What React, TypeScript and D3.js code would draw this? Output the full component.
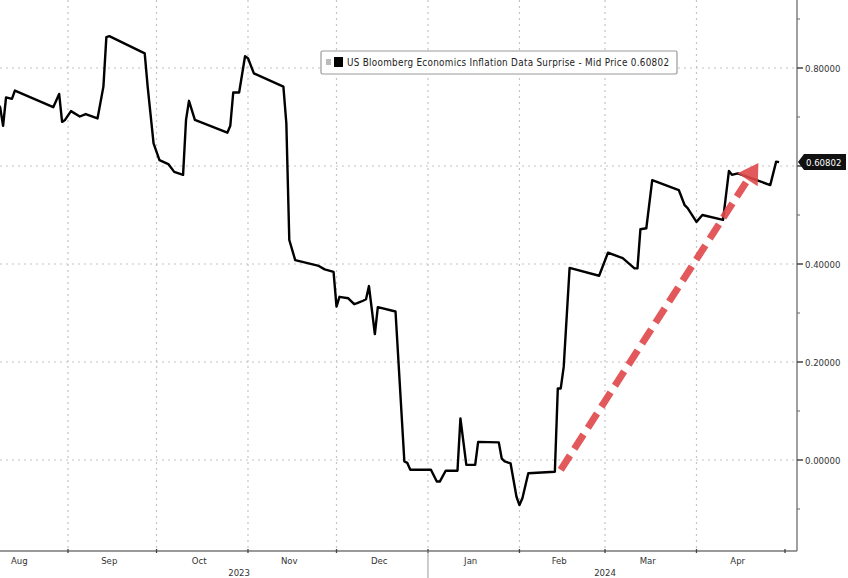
import React, { useEffect, useRef } from 'react';
import * as d3 from 'd3';

// series points (date, value)
const dates = [
  '2023-08-07', '2023-08-09', '2023-08-10', '2023-08-11', '2023-08-13', '2023-08-14', '2023-08-27', '2023-08-29',
  '2023-08-30', '2023-08-31', '2023-09-02', '2023-09-05', '2023-09-07', '2023-09-11', '2023-09-13', '2023-09-14',
  '2023-09-15', '2023-09-27', '2023-09-28', '2023-09-30', '2023-10-02', '2023-10-05', '2023-10-07', '2023-10-10',
  '2023-10-11', '2023-10-12', '2023-10-14', '2023-10-25', '2023-10-26', '2023-10-27', '2023-10-29', '2023-10-31',
  '2023-11-01', '2023-11-03', '2023-11-13', '2023-11-14', '2023-11-15', '2023-11-17', '2023-11-25', '2023-11-27',
  '2023-11-30', '2023-12-01', '2023-12-02', '2023-12-05', '2023-12-07', '2023-12-08', '2023-12-10', '2023-12-11',
  '2023-12-12', '2023-12-14', '2023-12-15', '2023-12-21', '2023-12-24', '2023-12-25', '2023-12-26', '2024-01-02',
  '2024-01-04', '2024-01-05', '2024-01-07', '2024-01-11', '2024-01-12', '2024-01-14', '2024-01-17', '2024-01-18',
  '2024-01-25', '2024-01-26', '2024-01-27', '2024-01-29', '2024-01-31', '2024-02-01', '2024-02-02', '2024-02-04',
  '2024-02-10', '2024-02-13', '2024-02-14', '2024-02-15', '2024-02-16', '2024-02-18', '2024-02-28', '2024-03-02',
  '2024-03-07', '2024-03-11', '2024-03-12', '2024-03-13', '2024-03-15', '2024-03-17', '2024-03-26', '2024-03-28',
  '2024-03-29', '2024-04-01', '2024-04-03', '2024-04-10', '2024-04-12', '2024-04-13', '2024-04-15', '2024-04-26',
  '2024-04-28', '2024-04-29',
];
const values = [
  0.735, 0.720, 0.682, 0.740, 0.737, 0.754, 0.720, 0.747,
  0.690, 0.694, 0.712, 0.701, 0.706, 0.697, 0.762, 0.863,
  0.865, 0.830, 0.762, 0.646, 0.612, 0.604, 0.588, 0.582,
  0.694, 0.733, 0.694, 0.668, 0.682, 0.750, 0.750, 0.824,
  0.820, 0.789, 0.762, 0.687, 0.449, 0.408, 0.396, 0.389,
  0.384, 0.313, 0.333, 0.330, 0.318, 0.320, 0.325, 0.328,
  0.355, 0.257, 0.312, 0.303, -0.003, -0.006, -0.020, -0.020,
  -0.044, -0.044, -0.022, -0.022, 0.085, -0.010, -0.010, 0.037,
  0.036, 0.003, -0.003, -0.007, -0.075, -0.092, -0.078, -0.027,
  -0.025, -0.024, 0.146, 0.146, 0.190, 0.392, 0.376, 0.423,
  0.412, 0.391, 0.391, 0.471, 0.473, 0.571, 0.551, 0.520,
  0.514, 0.486, 0.500, 0.490, 0.590, 0.582, 0.585, 0.561,
  0.609, 0.60802,
];

const monthLabels = ['Aug', 'Sep', 'Oct', 'Nov', 'Dec', 'Jan', 'Feb', 'Mar', 'Apr'];
const monthStarts = [
  '2023-08-01', '2023-09-01', '2023-10-01', '2023-11-01', '2023-12-01',
  '2024-01-01', '2024-02-01', '2024-03-01', '2024-04-01', '2024-05-01',
];
const yearLabels = ['2023', '2024'];
const yearLabelDates = ['2023-10-29', '2024-03-01'];
const yTicks = [0, 0.2, 0.4, 0.6, 0.8];
const yMinorTicks = [-0.1, 0.1, 0.3, 0.5, 0.7, 0.9];
const lastValue = 0.60802;
const legendText = 'US Bloomberg Economics Inflation Data Surprise - Mid Price 0.60802';
// trend arrow annotation (date, value)
const arrowFrom = { date: '2024-02-15', value: -0.02 };
const arrowTo = { date: '2024-04-22', value: 0.606 };

const W = 848;
const H = 578;
const plotRight = 797;
const plotBottom = 551;

const App: React.FC = () => {
  const svgRef = useRef<SVGSVGElement | null>(null);

  useEffect(() => {
    document.body.style.margin = '0';
    const parse = d3.timeParse('%Y-%m-%d');
    const svg = d3.select(svgRef.current);
    svg.selectAll('*').remove();

    const x = d3.scaleTime()
      .domain([parse('2023-09-01')!, parse('2024-05-01')!])
      .range([68, 785]);
    const y = d3.scaleLinear().domain([0, 0.8]).range([460, 68]);

    const font = "'DejaVu Sans Condensed', 'Liberation Sans', sans-serif";
    const grid = svg.append('g');

    // horizontal grid
    grid.selectAll('line.h')
      .data(yTicks)
      .join('line')
      .attr('x1', 0).attr('x2', plotRight)
      .attr('y1', (d) => y(d)).attr('y2', (d) => y(d))
      .attr('stroke', '#c4c4c4').attr('stroke-width', 1.2)
      .attr('stroke-dasharray', '2,4');

    // vertical grid at month boundaries
    grid.selectAll('line.v')
      .data(monthStarts.slice(1, -1))
      .join('line')
      .attr('x1', (d) => x(parse(d)!)).attr('x2', (d) => x(parse(d)!))
      .attr('y1', 0).attr('y2', plotBottom)
      .attr('stroke', '#c4c4c4').attr('stroke-width', 1.2)
      .attr('stroke-dasharray', '2,4');

    // axes frame
    svg.append('line')
      .attr('x1', plotRight).attr('x2', plotRight).attr('y1', 0).attr('y2', plotBottom)
      .attr('stroke', '#777').attr('stroke-width', 1.4);
    svg.append('line')
      .attr('x1', 0).attr('x2', plotRight).attr('y1', plotBottom).attr('y2', plotBottom)
      .attr('stroke', '#777').attr('stroke-width', 1.4);

    // right axis ticks + labels
    svg.selectAll('line.yt')
      .data(yTicks)
      .join('line')
      .attr('x1', plotRight).attr('x2', plotRight + 6)
      .attr('y1', (d) => y(d)).attr('y2', (d) => y(d))
      .attr('stroke', '#444').attr('stroke-width', 1.5);
    svg.selectAll('line.ym')
      .data(yMinorTicks)
      .join('line')
      .attr('x1', plotRight).attr('x2', plotRight + 3)
      .attr('y1', (d) => y(d)).attr('y2', (d) => y(d))
      .attr('stroke', '#666').attr('stroke-width', 1);
    svg.selectAll('text.yl')
      .data(yTicks.filter((d) => d !== 0.6))
      .join('text')
      .attr('x', plotRight + 8)
      .attr('y', (d) => y(d) + 3.5)
      .attr('font-family', font).attr('font-size', 9.5)
      .attr('fill', '#333')
      .text((d) => d.toFixed(5));

    // bottom axis ticks
    svg.selectAll('line.xt')
      .data(monthStarts.slice(1))
      .join('line')
      .attr('x1', (d) => x(parse(d)!)).attr('x2', (d) => x(parse(d)!))
      .attr('y1', plotBottom - 2).attr('y2', plotBottom + 2)
      .attr('stroke', '#444').attr('stroke-width', 1.3);
    svg.selectAll('text.xl')
      .data(monthLabels)
      .join('text')
      .attr('x', (_d, i) => {
        const a = x(parse(monthStarts[i])!);
        const b = x(parse(monthStarts[i + 1])!);
        return (a + b) / 2 - 3;
      })
      .attr('y', 564)
      .attr('text-anchor', 'middle')
      .attr('font-family', font).attr('font-size', 9.5)
      .attr('fill', '#333')
      .text((d) => d);
    svg.selectAll('text.yr')
      .data(yearLabels)
      .join('text')
      .attr('x', (_d, i) => x(parse(yearLabelDates[i])!))
      .attr('y', 576)
      .attr('text-anchor', 'middle')
      .attr('font-family', font).attr('font-size', 9.5)
      .attr('fill', '#333')
      .text((d) => d);
    const janX = x(parse('2024-01-01')!);
    svg.append('line')
      .attr('x1', janX).attr('x2', janX).attr('y1', plotBottom).attr('y2', H)
      .attr('stroke', '#999').attr('stroke-width', 1);

    // series line
    const pts = dates.map((d, i) => ({ date: parse(d)!, value: values[i] }));
    const line = d3.line<{ date: Date; value: number }>()
      .x((d) => x(d.date))
      .y((d) => y(d.value));
    svg.append('path')
      .datum(pts)
      .attr('d', line)
      .attr('fill', 'none')
      .attr('stroke', '#000')
      .attr('stroke-width', 2.4)
      .attr('stroke-linejoin', 'round');

    // red dashed trend arrow
    const x0 = x(parse(arrowFrom.date)!);
    const y0 = y(arrowFrom.value);
    const x1 = x(parse(arrowTo.date)!);
    const y1 = y(arrowTo.value);
    const ang = Math.atan2(y1 - y0, x1 - x0);
    const headLen = 20;
    const headW = 12;
    const bx = x1 - headLen * Math.cos(ang);
    const by = y1 - headLen * Math.sin(ang);
    svg.append('line')
      .attr('x1', x0).attr('y1', y0).attr('x2', bx).attr('y2', by)
      .attr('stroke', '#e0484a').attr('stroke-width', 7)
      .attr('stroke-dasharray', '17,8')
      .attr('opacity', 0.9);
    const px = -Math.sin(ang);
    const py = Math.cos(ang);
    svg.append('path')
      .attr('d', `M${x1},${y1}L${bx + px * headW},${by + py * headW}L${bx - px * headW},${by - py * headW}Z`)
      .attr('fill', '#e0484a')
      .attr('opacity', 0.9);

    // legend
    const lg = svg.append('g');
    lg.append('rect')
      .attr('x', 321).attr('y', 51).attr('width', 356).attr('height', 23)
      .attr('fill', '#fff').attr('stroke', '#999').attr('stroke-width', 1.2).attr('rx', 1.5);
    lg.append('rect')
      .attr('x', 326).attr('y', 59).attr('width', 5).attr('height', 6).attr('fill', '#bbb');
    lg.append('rect')
      .attr('x', 334).attr('y', 57).attr('width', 9).attr('height', 10).attr('fill', '#000');
    lg.append('text')
      .attr('x', 347).attr('y', 66)
      .attr('font-family', font).attr('font-size', 9.8)
      .attr('textLength', 322).attr('lengthAdjust', 'spacing')
      .attr('fill', '#222')
      .text(legendText);

    // last price tag
    const ly = y(lastValue);
    svg.append('path')
      .attr('d', `M${plotRight + 1},${ly}L${plotRight + 7},${ly - 8}H${W - 2}V${ly + 8}H${plotRight + 7}Z`)
      .attr('fill', '#111');
    svg.append('text')
      .attr('x', plotRight + 9).attr('y', ly + 3.5)
      .attr('font-family', font).attr('font-size', 9.5)
      .attr('fill', '#fff')
      .text(lastValue.toFixed(5));
  }, []);

  return <svg ref={svgRef} width={W} height={H} style={{ display: 'block', background: '#fff' }} />;
};

export default App;
